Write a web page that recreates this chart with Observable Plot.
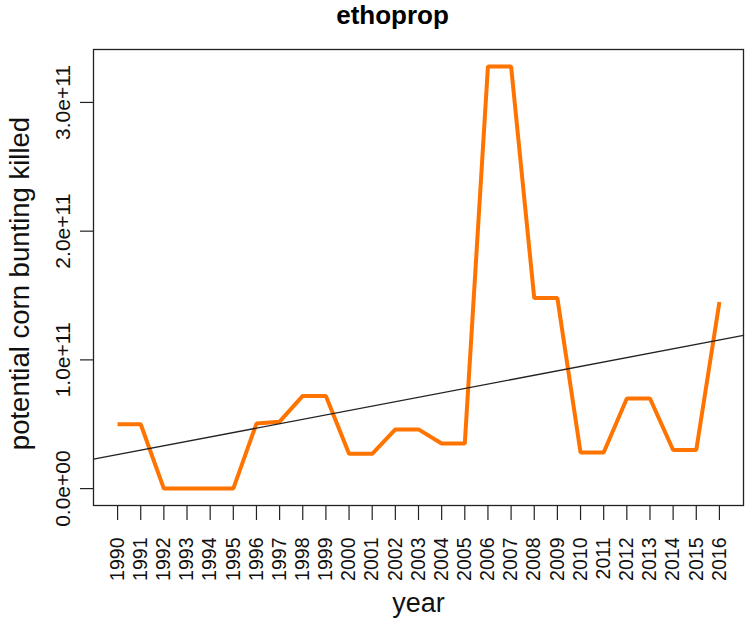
<!DOCTYPE html>
<html>
<head>
<meta charset="utf-8">
<script src="https://cdn.jsdelivr.net/npm/d3@7"></script>
<script src="https://cdn.jsdelivr.net/npm/@observablehq/plot@0.6"></script>
<style>
  html, body { margin: 0; padding: 0; background: #fff; }
  svg { font-family: "Liberation Sans", Arial, Helvetica, sans-serif; }
</style>
</head>
<body>
<div id="chart"></div>
<script>
const title = "ethoprop";
const xLabel = "year";
const yLabel = "potential corn bunting killed";
const years = [1990,1991,1992,1993,1994,1995,1996,1997,1998,1999,2000,2001,2002,2003,2004,2005,2006,2007,2008,2009,2010,2011,2012,2013,2014,2015,2016];
const killed = [5.0e10,5.0e10,0,0,0,0,5.05e10,5.2e10,7.2e10,7.2e10,2.7e10,2.7e10,4.6e10,4.6e10,3.5e10,3.5e10,3.28e11,3.28e11,1.48e11,1.48e11,2.8e10,2.8e10,7.0e10,7.0e10,3.0e10,3.0e10,1.45e11];
const yTicks = [0, 1e11, 2e11, 3e11];
const yTickLabels = ["0.0e+00", "1.0e+11", "2.0e+11", "3.0e+11"];

const data = years.map((yr, i) => ({year: yr, value: killed[i]}));

// R-style 4% axis expansion
const [x0, x1] = d3.extent(years);
const [v0, v1] = d3.extent(killed);
const xDom = [x0 - (x1 - x0) * 0.04, x1 + (x1 - x0) * 0.04];
const yDom = [v0 - (v1 - v0) * 0.04, v1 + (v1 - v0) * 0.04];

// least-squares fit (abline(lm(...)))
const mx = d3.mean(years), my = d3.mean(killed);
const slope = d3.sum(years, (t, i) => (t - mx) * (killed[i] - my)) / d3.sum(years, t => (t - mx) ** 2);
const intercept = my - slope * mx;
const fit = xDom.map(t => ({year: t, value: intercept + slope * t}));

const yTickData = yTicks.map((v, i) => ({v, label: yTickLabels[i]}));

const chart = Plot.plot({
  width: 747,
  height: 624,
  marginLeft: 93,
  marginRight: 4,
  marginTop: 49,
  marginBottom: 119,
  x: {domain: xDom, label: null},
  y: {domain: yDom, label: null},
  marks: [
    Plot.axisX({ticks: years, tickSize: 15, tickFormat: () => "", label: null, stroke: "#222", strokeWidth: 1.2}),
    Plot.axisY({ticks: yTicks, tickSize: 13, tickFormat: () => "", label: null, stroke: "#222", strokeWidth: 1.2}),
    Plot.text(years, {x: d => d, text: d => String(d), frameAnchor: "bottom", dy: 32, rotate: -90,
      textAnchor: "end", lineAnchor: "middle", fontSize: 19.5, fill: "#111"}),
    Plot.text(yTickData, {y: "v", text: "label", frameAnchor: "left", dx: -24, rotate: -90,
      textAnchor: "middle", lineAnchor: "bottom", fontSize: 21, fill: "#111"}),
    Plot.line(data, {x: "year", y: "value", stroke: "#ff7400", strokeWidth: 4, strokeLinejoin: "miter", strokeLinecap: "butt"}),
    Plot.line(fit, {x: "year", y: "value", stroke: "#222", strokeWidth: 1.3}),
    Plot.frame({stroke: "#222", strokeWidth: 1.3}),
    Plot.text([yLabel], {text: d => d, frameAnchor: "left", dx: -65, dy: 6, rotate: -90,
      textAnchor: "middle", lineAnchor: "bottom", fontSize: 27.5, fill: "#111"}),
    Plot.text([xLabel], {text: d => d, frameAnchor: "bottom", dy: 106, textAnchor: "middle",
      lineAnchor: "bottom", fontSize: 27, fill: "#111"}),
    Plot.text([title], {text: d => d, frameAnchor: "top", dy: -26, dx: -26, textAnchor: "middle",
      lineAnchor: "bottom", fontSize: 26, fontWeight: "bold", fill: "#000"})
  ]
});
document.getElementById("chart").appendChild(chart);
</script>
</body>
</html>
